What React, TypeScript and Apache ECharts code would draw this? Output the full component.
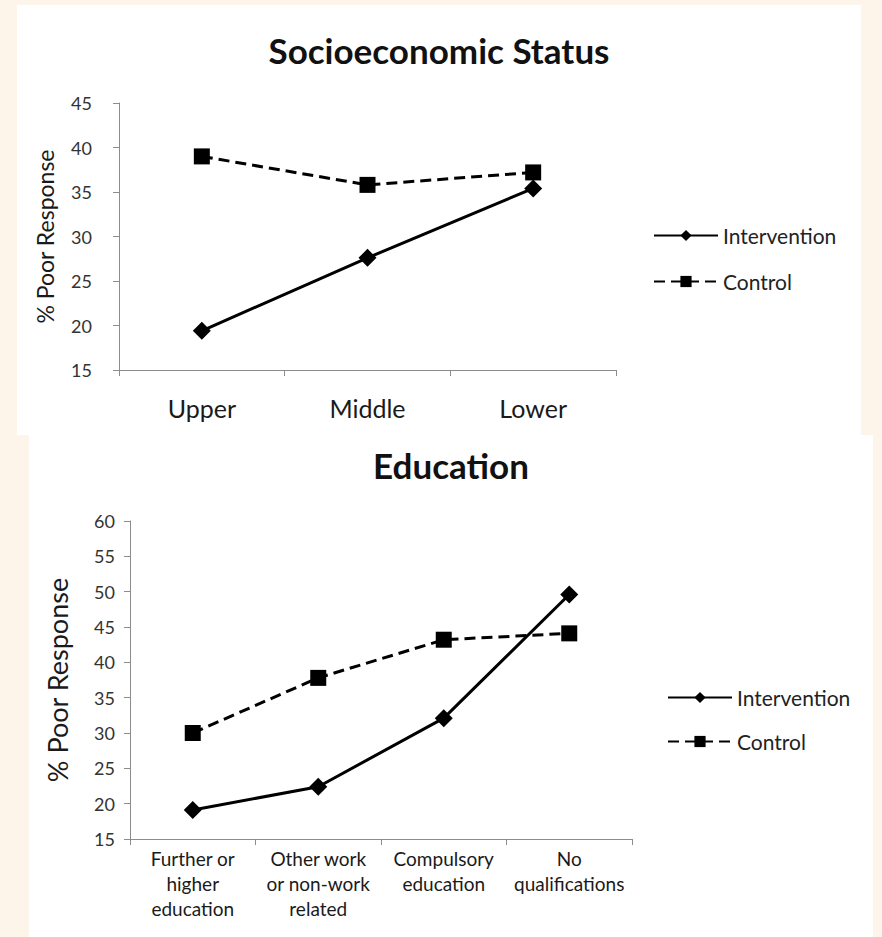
import React, { useEffect, useRef } from "react";
import * as echarts from "echarts";

// Socioeconomic status panel
const sesCategories = ["Upper", "Middle", "Lower"];
const sesIntervention = [19.4, 27.6, 35.4];
const sesControl = [39.0, 35.8, 37.2];

// Education panel
const eduCategories = [
  "Further or\nhigher\neducation",
  "Other work\nor non-work\nrelated",
  "Compulsory\neducation",
  "No\nqualifications",
];
const eduIntervention = [19.1, 22.4, 32.1, 49.6];
const eduControl = [30.0, 37.8, 43.2, 44.1];

const seriesNames = ["Intervention", "Control"];
const FONT = "Lato, 'Open Sans', sans-serif";
const AXIS_GREY = "#8c8c8c";

interface PanelCfg {
  title: string;
  titleTop: number;
  titleSize: number;
  categories: string[];
  intervention: number[];
  control: number[];
  yMin: number;
  yMax: number;
  grid: { left: number; top: number; width: number; height: number };
  xLabelSize: number;
  xLabelMargin: number;
  xLabelLineHeight: number;
  yLabelSize: number;
  yLabelMargin: number;
  yNameSize: number;
  yNameGap: number;
  legendLeft: number;
  legendTop: number;
  legendGap: number;
  legendSize: number;
}

function buildOption(c: PanelCfg): echarts.EChartsOption {
  return {
    animation: false,
    backgroundColor: "transparent",
    title: {
      text: c.title,
      left: "center",
      top: c.titleTop,
      textStyle: { fontFamily: FONT, fontSize: c.titleSize, fontWeight: "bold", color: "#111" },
    },
    legend: {
      orient: "vertical",
      left: c.legendLeft,
      top: c.legendTop,
      itemWidth: 64,
      itemHeight: 14,
      itemGap: c.legendGap,
      data: seriesNames,
      textStyle: { fontFamily: FONT, fontSize: c.legendSize, color: "#222" },
    },
    grid: { ...c.grid, containLabel: false },
    xAxis: {
      type: "category",
      data: c.categories,
      boundaryGap: true,
      axisLine: { show: true, lineStyle: { color: AXIS_GREY, width: 1 } },
      axisTick: { show: true, length: 6, lineStyle: { color: AXIS_GREY } },
      axisLabel: {
        fontFamily: FONT,
        fontSize: c.xLabelSize,
        lineHeight: c.xLabelLineHeight,
        color: "#1a1a1a",
        margin: c.xLabelMargin,
        interval: 0,
      },
      splitLine: { show: false },
    },
    yAxis: {
      type: "value",
      min: c.yMin,
      max: c.yMax,
      interval: 5,
      name: "% Poor Response",
      nameLocation: "middle",
      nameGap: c.yNameGap,
      nameTextStyle: { fontFamily: FONT, fontSize: c.yNameSize, color: "#1a1a1a" },
      axisLine: { show: true, lineStyle: { color: AXIS_GREY, width: 1 } },
      axisTick: { show: true, length: 6, lineStyle: { color: AXIS_GREY } },
      axisLabel: { fontFamily: FONT, fontSize: c.yLabelSize, color: "#333", margin: c.yLabelMargin },
      splitLine: { show: false },
    },
    series: [
      {
        name: seriesNames[0],
        type: "line",
        data: c.intervention,
        symbol: "diamond",
        symbolSize: 18,
        itemStyle: { color: "#000" },
        lineStyle: { color: "#000", width: 3, type: "solid" },
      },
      {
        name: seriesNames[1],
        type: "line",
        data: c.control,
        symbol: "rect",
        symbolSize: 16,
        itemStyle: { color: "#000" },
        lineStyle: { color: "#000", width: 3, type: [11, 6] },
      },
    ],
  };
}

function Panel(props: { cfg: PanelCfg; style: React.CSSProperties }) {
  const ref = useRef<HTMLDivElement>(null);
  useEffect(() => {
    if (!ref.current) return;
    const chart = echarts.init(ref.current, undefined, { renderer: "svg" });
    chart.setOption(buildOption(props.cfg));
    return () => chart.dispose();
  }, [props.cfg]);
  return <div ref={ref} style={{ position: "absolute", background: "#fff", ...props.style }} />;
}

const sesCfg: PanelCfg = {
  title: "Socioeconomic Status",
  titleTop: 22,
  titleSize: 35,
  categories: sesCategories,
  intervention: sesIntervention,
  control: sesControl,
  yMin: 15,
  yMax: 45,
  grid: { left: 102, top: 98, width: 497, height: 267 },
  xLabelSize: 25,
  xLabelMargin: 24,
  xLabelLineHeight: 28,
  yLabelSize: 18,
  yLabelMargin: 27,
  yNameSize: 23,
  yNameGap: 63,
  legendLeft: 631,
  legendTop: 215,
  legendGap: 25,
  legendSize: 21,
};

const eduCfg: PanelCfg = {
  title: "Education",
  titleTop: 7,
  titleSize: 35,
  categories: eduCategories,
  intervention: eduIntervention,
  control: eduControl,
  yMin: 15,
  yMax: 60,
  grid: { left: 101, top: 86, width: 502, height: 318 },
  xLabelSize: 19,
  xLabelMargin: 7,
  xLabelLineHeight: 25,
  yLabelSize: 18,
  yLabelMargin: 15,
  yNameSize: 27,
  yNameGap: 59,
  legendLeft: 633,
  legendTop: 247,
  legendGap: 23,
  legendSize: 21,
};

export default function App() {
  return (
    <div
      style={{
        position: "fixed",
        left: 0,
        top: 0,
        width: 882,
        height: 937,
        background: "#fef5ea",
        overflow: "hidden",
      }}
    >
      <Panel cfg={sesCfg} style={{ left: 17, top: 5, width: 844, height: 430 }} />
      <Panel cfg={eduCfg} style={{ left: 29, top: 435, width: 844, height: 502 }} />
    </div>
  );
}
